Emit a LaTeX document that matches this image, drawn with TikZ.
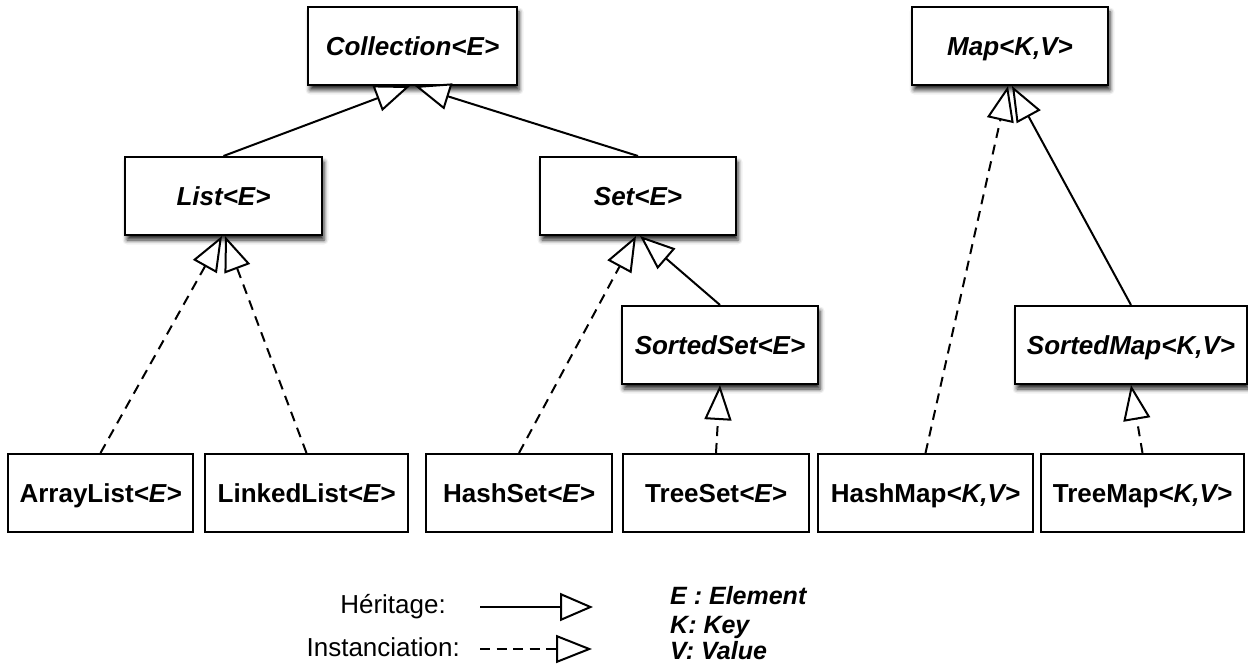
\documentclass[tikz,border=0pt]{standalone}
\usepackage{fontspec}
\setmainfont{Liberation Sans}
\usetikzlibrary{arrows.meta,shadows.blur,calc}
\begin{document}
\begin{tikzpicture}[x=1pt,y=-1pt,
  box/.style={draw=black, line width=2pt, fill=white, minimum height=78pt, inner sep=0pt,
    text height=18.7pt, text depth=0pt},
  absbox/.style={box, font=\fontsize{26}{30}\selectfont\bfseries\itshape,
    blur shadow={shadow xshift=2pt, shadow yshift=-5pt, shadow blur radius=4.5pt, shadow opacity=85}},
  concbox/.style={box, font=\fontsize{26}{30}\selectfont\bfseries},
  inh/.style={line width=2pt, -{Triangle[length=35pt,width=27pt,fill=white]}},
  inst/.style={inh, dash pattern=on 10pt off 7pt},
  legtext/.style={font=\fontsize{26}{30}\selectfont, inner sep=0pt, text height=18.7pt, text depth=0pt},
  keytext/.style={font=\fontsize{25}{29}\selectfont\bfseries\itshape, inner sep=0pt, anchor=west, text height=18pt, text depth=0pt},
]
\useasboundingbox (0,0) rectangle (1248,666);

% abstract types
\node[absbox, minimum width=209pt] (Coll) at (412.5,46) {Collection<E>};
\node[absbox, minimum width=197pt] (List) at (223.5,196) {List<E>};
\node[absbox, minimum width=196pt] (Set) at (638,196) {Set<E>};
\node[absbox, minimum width=196pt] (Map) at (1010,46) {Map<K,V>};
\node[absbox, minimum width=196pt] (SortedSet) at (720,345) {SortedSet<E>};
\node[absbox, minimum width=232pt] (SortedMap) at (1131,345) {SortedMap<K,V>};

% concrete classes
\node[concbox, minimum width=185pt] (ArrayList) at (100.5,493) {ArrayList{\itshape<E>}};
\node[concbox, minimum width=203pt] (LinkedList) at (306.5,493) {LinkedList{\itshape<E>}};
\node[concbox, minimum width=186pt] (HashSet) at (519,493) {HashSet{\itshape<E>}};
\node[concbox, minimum width=186pt] (TreeSet) at (716,493) {TreeSet{\itshape<E>}};
\node[concbox, minimum width=215pt] (HashMap) at (925.5,493) {HashMap{\itshape<K,V>}};
\node[concbox, minimum width=203pt] (TreeMap) at (1142.5,493) {TreeMap{\itshape<K,V>}};

% connectors
\draw[inh] (List.north) -- ($(Coll.south)+(-2.5,0)$);
\draw[inh] (Set.north) -- ($(Coll.south)+(2.5,0)$);
\draw[inst] (ArrayList.north) -- ($(List.south)+(-1.5,0)$);
\draw[inst] (LinkedList.north) -- ($(List.south)+(1.5,0)$);
\draw[inst] (HashSet.north) -- ($(Set.south)+(-2,0)$);
\draw[inh] (SortedSet.north) -- ($(Set.south)+(2,0)$);
\draw[inst] (TreeSet.north) -- (SortedSet.south);
\draw[inst] (HashMap.north) -- ($(Map.south)+(-2,0)$);
\draw[inh] (SortedMap.north) -- ($(Map.south)+(2,0)$);
\draw[inst] (TreeMap.north) -- (SortedMap.south);

% legend
\node[legtext, anchor=east] (lh) at (446,604) {Héritage:};
\node[legtext, anchor=east] (li) at (460,647) {Instanciation:};
\coordinate (h1) at (480,607);
\coordinate (h2) at (593,607);
\coordinate (i1) at (480,649);
\coordinate (i2) at (592,649);
\draw[line width=2pt, -{Triangle[length=33pt,width=28pt,fill=white]}] (h1) -- (h2);
\draw[line width=2pt, dash pattern=on 10pt off 6.5pt, -{Triangle[length=36pt,width=28pt,fill=white]}] (i1) -- (i2);
\node[keytext] (kE) at (670,595) {E : Element};
\node[keytext] (kK) at (670,624) {K: Key};
\node[keytext] (kV) at (670,650) {V: Value};
\end{tikzpicture}
\end{document}
